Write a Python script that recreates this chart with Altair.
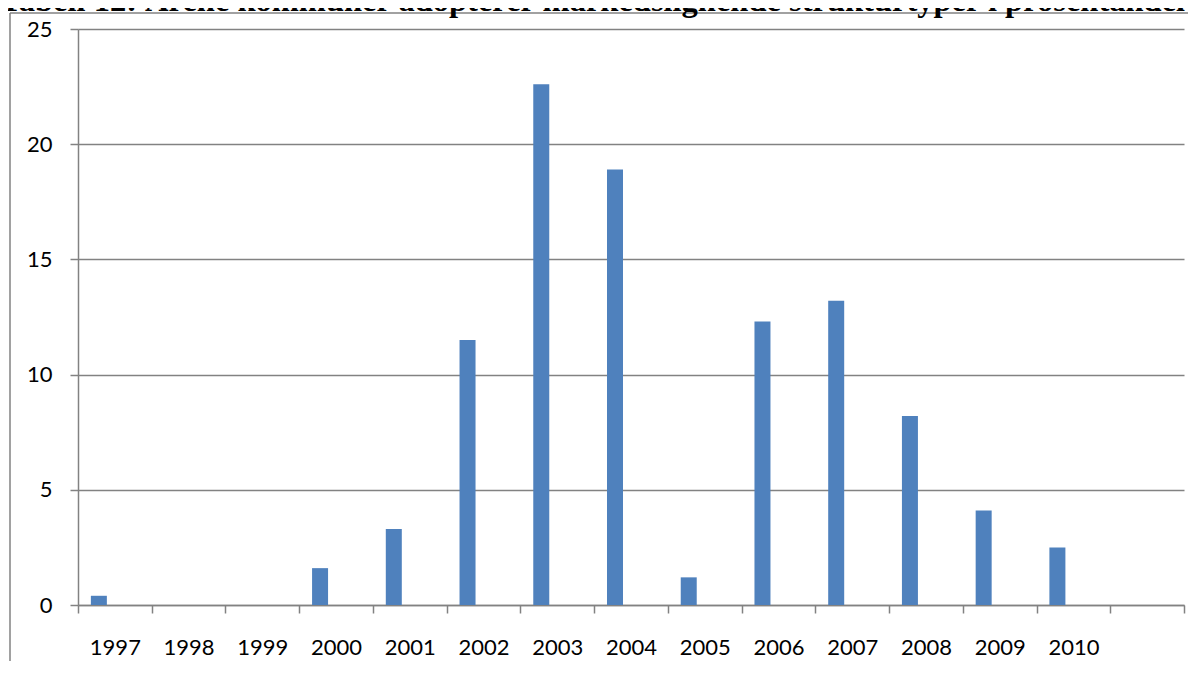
import altair as alt
import pandas as pd

# ---- data ----
years = ["1997", "1998", "1999", "2000", "2001", "2002", "2003",
         "2004", "2005", "2006", "2007", "2008", "2009", "2010"]
values = [0.4, 0.0, 0.0, 1.6, 3.3, 11.5, 22.6, 18.9, 1.2, 12.3, 13.2, 8.2, 4.1, 2.5]
categories = years + [""]          # Excel leaves one empty category at the end
series = ["Serie 1", "Serie 2", "Serie 3"]   # only the first series holds data
y_ticks = [0, 5, 10, 15, 20, 25]
title_text = "Tabell 12: Årene kommuner adopterer markedslignende strukturtyper i prosentandel"

df = pd.DataFrame({"year": years, "value": values, "series": series[0]})

W, H = 1106, 576
PAD_L, PAD_T, PAD_R, PAD_B = 70, 21, 4, 56
GRAY = "#828282"
FONT = "Lato"

bars = alt.Chart(df).mark_bar(color="#4F81BD").encode(
    x=alt.X(
        "year:N",
        sort=categories,
        scale=alt.Scale(domain=categories, paddingInner=0, paddingOuter=0),
        axis=alt.Axis(
            title=None, labelAngle=0, tickBand="extent", tickSize=8,
            tickColor=GRAY, tickWidth=1.5, domainColor=GRAY, domainWidth=1.5,
            labelFont=FONT, labelFontSize=22, labelColor="black",
            labelPadding=24, grid=False,
        ),
    ),
    xOffset=alt.XOffset(
        "series:N",
        scale=alt.Scale(domain=series, paddingInner=0, paddingOuter=0.804),
    ),
    y=alt.Y(
        "value:Q",
        scale=alt.Scale(domain=[0, 25], nice=False),
        axis=alt.Axis(
            title=None, values=y_ticks, tickSize=8, tickColor=GRAY,
            tickWidth=1.5, domainColor=GRAY, domainWidth=1.5,
            grid=True, gridColor=GRAY, gridWidth=1.5,
            labelFont=FONT, labelFontSize=22, labelColor="black",
            labelPadding=18,
        ),
    ),
)

title = alt.Chart(pd.DataFrame({"t": [title_text]})).mark_text(
    align="left", baseline="alphabetic", font="Liberation Serif",
    fontWeight="bold", fontSize=32.5, color="black",
).encode(text="t:N", x=alt.value(-78), y=alt.value(-18))

# outer frame of the original figure (only its top and left sides are visible)
right_edge = W + PAD_R
bottom_edge = H + PAD_B
border_df = pd.DataFrame({"a": [0]})
border_top = alt.Chart(border_df).mark_rule(color=GRAY, strokeWidth=1.5).encode(
    x=alt.value(-68), x2=alt.value(right_edge), y=alt.value(-16)
)
border_left = alt.Chart(border_df).mark_rule(color=GRAY, strokeWidth=1.5).encode(
    x=alt.value(-68), y=alt.value(-16), y2=alt.value(bottom_edge)
)

chart = alt.layer(border_top, border_left, bars, title).properties(
    width=W, height=H,
    autosize=alt.AutoSizeParams(type="none"),
    padding={"left": PAD_L, "top": PAD_T, "right": PAD_R, "bottom": PAD_B},
    background="white",
).configure_view(stroke=None)

chart.save("out.html", embed_options={"renderer": "svg", "actions": False})
